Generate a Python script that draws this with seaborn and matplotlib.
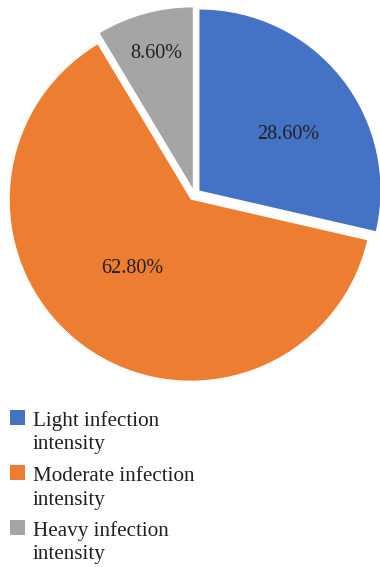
import numpy as np
import matplotlib
matplotlib.use("Agg")
import matplotlib.pyplot as plt
import seaborn as sns
from matplotlib.patches import Rectangle

sns.set_theme(style="white")
plt.rcParams['font.family'] = ['Liberation Serif', 'DejaVu Serif']

# data
categories = ["Light infection\nintensity", "Moderate infection\nintensity", "Heavy infection\nintensity"]
shares = [28.6, 62.8, 8.6]
colors = ["#4472C4", "#ED7D31", "#A5A5A5"]
label_dist = [0.58, 0.50, 0.775]
label_shift = [-6.4, -4.7, -0.3]   # degrees, to mimic label placement

fig = plt.figure(figsize=(3.8, 5.67), dpi=100)
W, H = 380, 567
R = 181          # pixel radius
k = 1.12
cx, cy = 194.5, 194.5
ax = fig.add_axes([(cx - R * k) / W, (H - cy - R * k) / H, 2 * R * k / W, 2 * R * k / H])

wedges, texts, autotexts = ax.pie(
    shares, colors=colors, startangle=90, counterclock=False,
    explode=[0.035] * 3, autopct=lambda p: f"{p:.2f}%",
    wedgeprops=dict(linewidth=0), textprops=dict(fontsize=14.5, color="#231F20"),
)
for w, t, d, s in zip(wedges, autotexts, label_dist, label_shift):
    ang = np.deg2rad((w.theta1 + w.theta2) / 2 + s)
    t.set_position((w.center[0] + d * np.cos(ang), w.center[1] + d * np.sin(ang)))
ax.set_xlim(-k, k)
ax.set_ylim(-k, k)
ax.set_aspect("equal")
ax.axis("off")

# legend, drawn by hand so the square sits on the first line
for i, (lab, c) in enumerate(zip(categories, colors)):
    top = 410 + i * 55
    fig.patches.append(Rectangle((10 / W, 1 - (top + 15) / H), 15 / W, 15 / H,
                                 transform=fig.transFigure, facecolor=c, edgecolor="none"))
    # va='baseline' puts the last line on this baseline
    fig.text(33 / W, 1 - (top + 39.5) / H, lab, fontsize=15.2, color="#231F20",
             ha="left", va="baseline", linespacing=1.3)

fig.savefig("out.png", dpi=100)
